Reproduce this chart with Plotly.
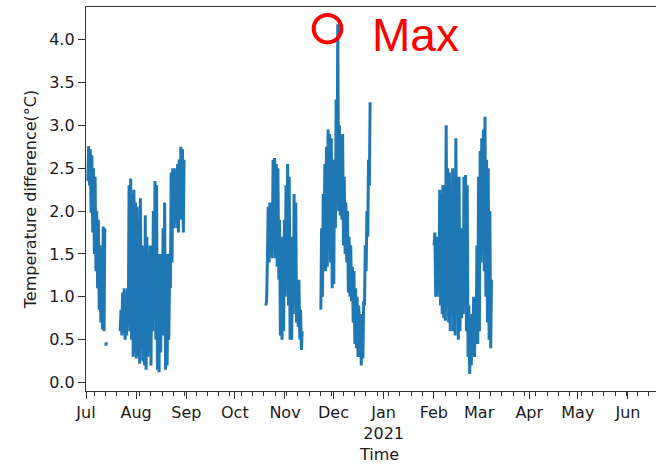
import pandas as pd
import plotly.graph_objects as go

# ---- data: daily high / low of the temperature difference (°C), per measured segment ----
seg1_start = "2020-07-02"
seg1_hi = [2.76, 2.72, 2.65, 2.50, 2.40, 2.00, 1.90, 1.60, 1.45, 1.82, 1.80]
seg1_lo = [2.35, 2.30, 1.98, 1.75, 1.50, 1.30, 1.10, 0.85, 0.70, 0.62, 0.60]

seg1b_start = "2020-07-13"
seg1b_hi = [0.47]
seg1b_lo = [0.43]

seg2_start = "2020-07-22"
seg2_hi = [0.85, 1.05, 1.10, 1.00, 1.10, 2.30, 2.38, 2.20, 2.25, 2.10,
           2.05, 1.90, 2.15, 1.60, 1.50, 1.95, 1.70, 1.00, 1.60, 1.20,
           2.00, 2.35, 2.30, 1.40, 1.50, 1.10, 1.80, 2.10, 1.30, 1.50,
           1.20, 2.45, 2.50, 2.50, 2.40, 2.55, 2.60, 2.75, 2.72, 2.60]
seg2_lo = [0.60, 0.55, 0.60, 0.50, 0.55, 0.75, 0.60, 0.50, 0.30, 0.35,
           0.28, 0.30, 0.22, 0.40, 0.25, 0.20, 0.15, 0.30, 0.50, 0.20,
           0.60, 1.00, 0.50, 0.15, 0.12, 0.35, 0.55, 0.90, 0.15, 0.20,
           0.50, 1.10, 1.40, 1.80, 1.90, 1.80, 1.75, 1.90, 2.00, 1.75]

seg3_start = "2020-10-20"
seg3_hi = [0.95, 2.05, 2.10, 2.00, 2.60, 2.62, 2.55, 2.50, 1.90, 1.60,
           1.70, 1.90, 2.30, 2.55, 2.40, 1.40, 1.70, 2.20, 2.10, 1.20,
           1.20, 0.85, 0.60]
seg3_lo = [0.90, 1.45, 1.40, 1.50, 1.45, 1.55, 1.45, 1.35, 1.20, 0.55,
           0.50, 0.60, 1.00, 1.20, 0.90, 0.50, 0.50, 0.80, 1.00, 0.70,
           0.65, 0.50, 0.38]

seg4_start = "2020-11-23"
seg4_hi = [1.80, 2.20, 2.55, 2.75, 2.95, 2.90, 2.85, 2.60, 2.60, 3.30,
           4.18, 3.00, 2.85, 2.90, 2.40, 2.10, 2.00, 1.70, 1.60, 1.35,
           1.30, 1.10, 1.00, 0.90, 0.75, 0.80, 0.95, 1.60, 2.00, 2.60,
           3.27]
seg4_lo = [0.85, 1.00, 1.50, 1.30, 1.35, 1.60, 1.40, 1.10, 1.15, 1.80,
           2.20, 2.00, 1.95, 1.90, 1.60, 1.50, 1.40, 1.05, 1.00, 0.95,
           0.70, 0.45, 0.40, 0.30, 0.30, 0.20, 0.28, 0.90, 1.30, 1.70,
           2.30]

seg5_start = "2021-02-01"
seg5_hi = [1.75, 1.70, 1.60, 2.25, 2.20, 2.30, 1.90, 3.00, 2.50, 2.45,
           2.20, 2.50, 2.00, 2.85, 2.30, 2.40, 1.80, 1.70, 2.40, 2.42,
           2.30, 0.90, 0.75, 0.80, 1.00, 0.90, 1.60, 2.40, 2.70, 2.85,
           2.95, 3.10, 2.60, 2.50, 2.00, 1.20]
seg5_lo = [1.60, 1.00, 1.00, 1.10, 0.90, 0.80, 0.75, 0.72, 0.90, 0.70,
           0.60, 0.80, 0.60, 0.55, 0.90, 0.50, 0.60, 0.75, 0.80, 1.00,
           0.60, 0.30, 0.10, 0.20, 0.40, 0.30, 0.50, 0.45, 0.60, 1.40,
           1.80, 1.30, 1.00, 0.70, 0.50, 0.40]

month_ticks = ["2020-07-01", "2020-08-01", "2020-09-01", "2020-10-01", "2020-11-01",
               "2020-12-01", "2021-01-01", "2021-02-01", "2021-03-01", "2021-04-01",
               "2021-05-01", "2021-06-01"]
month_labels = ["Jul", "Aug", "Sep", "Oct", "Nov", "Dec", "Jan<br>2021",
                "Feb", "Mar", "Apr", "May", "Jun"]
y_ticks = [0.0, 0.5, 1.0, 1.5, 2.0, 2.5, 3.0, 3.5, 4.0]

segments = [
    (seg1_start, seg1_hi, seg1_lo),
    (seg1b_start, seg1b_hi, seg1b_lo),
    (seg2_start, seg2_hi, seg2_lo),
    (seg3_start, seg3_hi, seg3_lo),
    (seg4_start, seg4_hi, seg4_lo),
    (seg5_start, seg5_hi, seg5_lo),
]

xs, ys = [], []
for start, hi, lo in segments:
    days = pd.date_range(start, periods=len(hi), freq="D")
    for d, h, l in zip(days, hi, lo):
        xs += [d + pd.Timedelta(hours=4), d + pd.Timedelta(hours=15)]
        ys += [l, h]
    xs.append(days[-1] + pd.Timedelta(hours=20))
    ys.append(None)

TXT = "#1a1a1a"
FONT = "DejaVu Sans"

fig = go.Figure()
fig.add_trace(go.Scatter(
    x=xs, y=ys, mode="lines",
    line=dict(color="#1f77b4", width=3),
    connectgaps=False, showlegend=False, hoverinfo="skip",
))

fig.update_layout(
    width=656, height=465,
    margin=dict(l=86, r=0, t=7, b=74),
    paper_bgcolor="white", plot_bgcolor="white",
    font=dict(family=FONT, size=16, color=TXT),
    showlegend=False,
)

fig.update_xaxes(
    type="date",
    range=["2020-07-01", "2021-06-18 08:00"],
    tickmode="array", tickvals=month_ticks, ticktext=month_labels,
    ticks="outside", ticklen=7, tickwidth=1.2, tickcolor="#333",
    minor=dict(ticks="outside", ticklen=4, tickwidth=1, tickcolor="#333",
               dtick=7 * 24 * 3600 * 1000, tick0="2020-07-06", showgrid=False),
    showline=True, linecolor="#333", linewidth=1.3, mirror=True,
    showgrid=False, zeroline=False,
    tickfont=dict(family=FONT, size=16, color=TXT),
)

fig.update_yaxes(
    range=[-0.098, 4.38],
    tickmode="array", tickvals=y_ticks, ticktext=[f"{v:.1f}" for v in y_ticks],
    ticks="outside", ticklen=7, tickwidth=1.2, tickcolor="#333",
    showline=True, linecolor="#333", linewidth=1.3,
    showgrid=False, zeroline=False,
    tickfont=dict(family=FONT, size=16, color=TXT),
    title=dict(text="Temperature difference(°C)", standoff=8,
               font=dict(family=FONT, size=16, color=TXT)),
)

# x-axis title (centered on the full, un-cropped axes)
fig.add_annotation(
    text="Time", xref="paper", yref="paper", x=0.514, y=0, yshift=-63,
    xanchor="center", yanchor="middle", showarrow=False,
    font=dict(family=FONT, size=16, color=TXT),
)

# "Max" marker: red ring near the peak and label
fig.add_shape(
    type="circle", xref="x", yref="y",
    xsizemode="pixel", ysizemode="pixel",
    xanchor="2020-11-27 07:00", yanchor=4.127,
    x0=-13.8, x1=13.8, y0=-13.8, y1=13.8,
    line=dict(color="#ff0000", width=4), fillcolor="rgba(0,0,0,0)",
)
fig.add_annotation(
    text="Max", xref="paper", yref="paper", x=(370 - 86) / 570, y=(391 - 35) / 384,
    xanchor="left", yanchor="middle", showarrow=False,
    font=dict(family="Liberation Sans", size=46, color="#ff0000"),
)

fig.write_html("out.html")
